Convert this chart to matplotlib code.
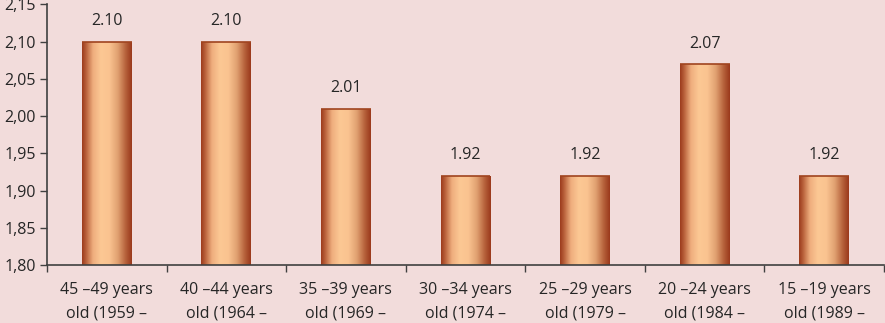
import matplotlib
matplotlib.use("Agg")
import matplotlib.pyplot as plt
import numpy as np
from matplotlib.colors import LinearSegmentedColormap
from matplotlib.ticker import FuncFormatter, MultipleLocator

categories = ["45 –49 years\nold (1959 –", "40 –44 years\nold (1964 –",
              "35 –39 years\nold (1969 –", "30 –34 years\nold (1974 –",
              "25 –29 years\nold (1979 –", "20 –24 years\nold (1984 –",
              "15 –19 years\nold (1989 –"]
values = [2.10, 2.10, 2.01, 1.92, 1.92, 2.07, 1.92]
labels = ["2.10", "2.10", "2.01", "1.92", "1.92", "2.07", "1.92"]

plt.rcParams['font.family'] = ['Open Sans', 'DejaVu Sans']

bg = "#F2DCDB"
fs = 11.5
fig = plt.figure(figsize=(8.85, 3.23), dpi=100, facecolor=bg)
ax = fig.add_axes([0.0531, 0.1796, 0.9458, 0.8065])
ax.set_facecolor(bg)

x = np.arange(len(values))
bars = ax.bar(x, values, width=0.417, bottom=0, color="none", edgecolor="none", zorder=2)

cmap = LinearSegmentedColormap.from_list("bar", [
    (0.0, "#9C3A1C"), (0.08, "#B8603A"), (0.22, "#EFAE7E"), (0.38, "#FCC894"),
    (0.55, "#FAC390"), (0.72, "#E0A070"), (0.88, "#B5603A"), (1.0, "#9A381B")])
grad = np.linspace(0, 1, 256).reshape(1, -1)

ax.set_xlim(-0.5, len(values) - 0.5)
ax.set_ylim(1.80, 2.15)

for b in bars:
    x0 = b.get_x()
    w = b.get_width()
    h = b.get_height()
    im = ax.imshow(grad, cmap=cmap, aspect="auto", extent=(x0, x0 + w, 1.80, h),
                   zorder=2, interpolation="bicubic")
    im.set_clip_path(b)
    ax.plot([x0, x0 + w], [h, h], color="#A0441F", lw=1.2, zorder=3,
            solid_capstyle="butt")

for xi, v, t in zip(x, values, labels):
    ax.annotate(t, (xi, v), xytext=(0, 9), textcoords="offset points",
                ha="center", va="bottom", fontsize=fs, color="#262626")

ax.set_xlim(-0.5, len(values) - 0.5)
ax.set_ylim(1.80, 2.15)
ax.yaxis.set_major_locator(MultipleLocator(0.05))
ax.yaxis.set_major_formatter(FuncFormatter(lambda v, p: f"{v:.2f}".replace(".", ",")))

ax.set_xticks(x)
ax.set_xticklabels(categories, fontsize=fs, color="#262626", linespacing=1.6)
ax.set_xticks(np.arange(len(values) + 1) - 0.5, minor=True)
ax.tick_params(axis="x", which="major", length=0, pad=12.5)
ax.tick_params(axis="x", which="minor", length=5, width=1, color="#404040", direction="out")
ax.tick_params(axis="y", length=5, width=1, color="#404040", labelsize=fs,
               labelcolor="#262626", pad=3)

for s in ["top", "right"]:
    ax.spines[s].set_visible(False)
for s in ["left", "bottom"]:
    ax.spines[s].set_color("#404040")
    ax.spines[s].set_linewidth(1.2)

fig.savefig("out.png", dpi=100, facecolor=bg)
